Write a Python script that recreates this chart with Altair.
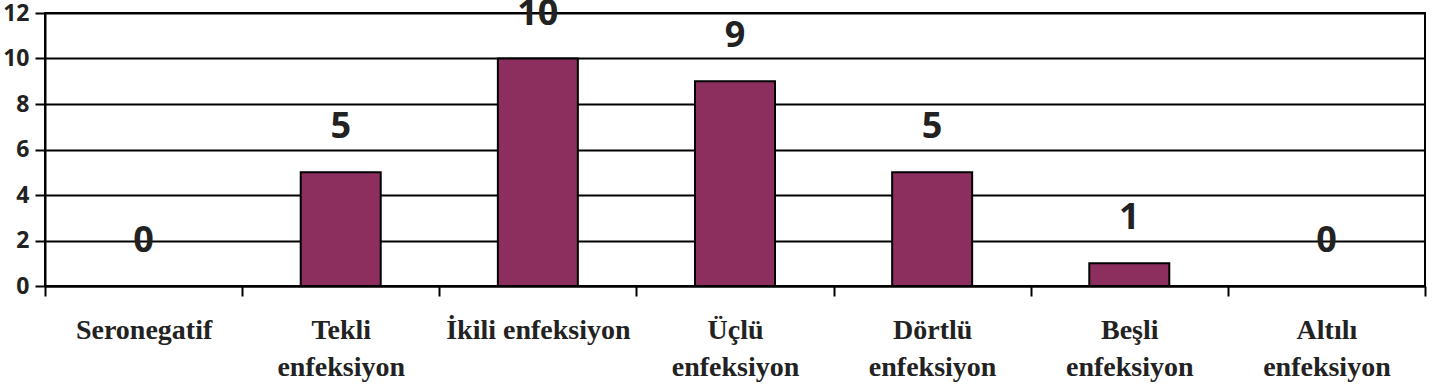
import altair as alt
import pandas as pd

categories = ["Seronegatif", "Tekli\nenfeksiyon", "İkili enfeksiyon", "Üçlü\nenfeksiyon",
              "Dörtlü\nenfeksiyon", "Beşli\nenfeksiyon", "Altılı\nenfeksiyon"]
values = [0, 5, 10, 9, 5, 1, 0]
y_ticks = [0, 2, 4, 6, 8, 10, 12]

df = pd.DataFrame({"cat": categories, "val": values})

x = alt.X("cat:N", sort=categories, title=None,
          scale=alt.Scale(paddingInner=0, paddingOuter=0),
          axis=alt.Axis(labelAngle=0, labelExpr="split(datum.label, '\\n')",
                        labelFont="Liberation Serif", labelFontWeight="bold",
                        labelFontSize=28, labelColor="#222", labelLineHeight=37,
                        labelPadding=20, labelLimit=400, tickBand="extent", tickSize=10,
                        tickWidth=2, tickColor="black", domainColor="black",
                        domainWidth=2, grid=False, labelBaseline="top"))
y = alt.Y("val:Q", title=None,
          scale=alt.Scale(domain=[0, 12], nice=False),
          axis=alt.Axis(values=y_ticks, labelFont="Open Sans", labelFontWeight="bold",
                        labelFontSize=23, labelColor="#222", labelPadding=6,
                        tickSize=10, tickWidth=2, tickColor="black",
                        domainColor="black", domainWidth=2,
                        grid=True, gridColor="black", gridWidth=2, gridOpacity=1))

bars = alt.Chart(df).mark_bar(color="#8C2F5F", stroke="black", strokeWidth=2,
                              width=80).encode(x=x, y=y)
labels = alt.Chart(df).mark_text(font="Open Sans", fontWeight="bold", fontSize=36,
                                 color="#222", baseline="middle", dy=-45).encode(
    x=alt.X("cat:N", sort=categories), y=alt.Y("val:Q"), text="val:Q")

chart = alt.layer(bars, labels).properties(
    width=1380, height=273,
    autosize=alt.AutoSizeParams(type="none"),
    padding={"left": 45, "top": 13, "right": 15, "bottom": 101},
    background="white",
).configure_view(stroke="black", strokeWidth=2)

chart.save("out.html", embed_options={"renderer": "svg", "actions": False})
